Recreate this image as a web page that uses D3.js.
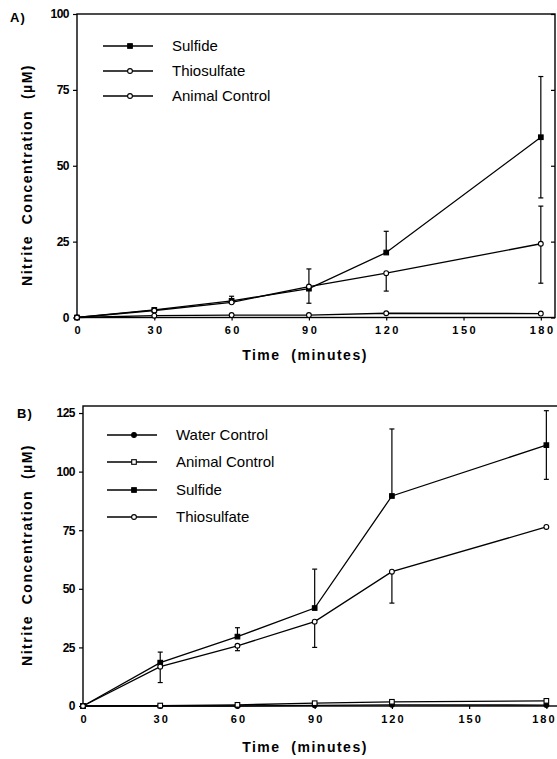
<!DOCTYPE html>
<html>
  <head>
    <style>
      body { margin: 0; background: #fff; }
      svg { font-family: "Liberation Sans", Arial, sans-serif; }
      .tick text { font-weight: bold; }
      .title { font-weight: bold; font-size: 14px; letter-spacing: 1.5px; white-space: pre; }
      .legend text { font-size: 15px; }
    </style>
  </head>
  <body>
    <svg width="557" height="759"></svg>
    <script src="https://d3js.org/d3.v7.min.js"></script>
    <script>
      // time points (minutes)
      var times = [0, 30, 60, 90, 120, 180];

      // panel A
      var aSulfide = [0, 2.5, 5.5, 9.5, 21.4, 59.4];
      var aSulfideUp = [0, 0.5, 1.5, 6.5, 7, 20];
      var aSulfideDown = [0, 0, 0, 0, 0, 20];
      var aThio = [0, 2.3, 5, 10.2, 14.6, 24.3];
      var aThioUp = [0, 0, 0, 0, 0, 12.4];
      var aThioDown = [0, 0, 0, 5.5, 5.9, 13];
      var aAnimal = [0, 0.6, 0.8, 0.8, 1.4, 1.3];

      // panel B
      var bWater = [0, 0, 0, 0.3, 0.5, 0.4];
      var bAnimal = [0, 0.2, 0.5, 1.2, 1.8, 2.2];
      var bSulfide = [0, 18.5, 29.6, 41.8, 89.6, 111.3];
      var bSulfideUp = [0, 4.5, 3.8, 16.6, 28.6, 14.7];
      var bSulfideDown = [0, 0, 0, 0, 0, 14.6];
      var bThio = [0, 16.8, 25.7, 36, 57.3, 76.4];
      var bThioUp = [0, 0, 0, 0, 0, 0];
      var bThioDown = [0, 6.8, 2.1, 11, 13.4, 0];

      var xTicks = [0, 30, 60, 90, 120, 150, 180];
      var aYTicks = [0, 25, 50, 75, 100];
      var bYTicks = [0, 25, 50, 75, 100, 125];

      var svg = d3.select("svg");

      function series(name, values, marker, up, down) {
        return { name: name, values: values, marker: marker, up: up || [], down: down || [] };
      }

      var panels = [
        {
          label: "A)", labelX: 10, labelY: 22,
          x0: 77, x1: 555, y0: 317.5, y1: 14,
          xMax: 185.5, yMax: 100, yTicks: aYTicks, rightTicks: true,
          titleY: 360, yTitleY: 175, tickSpacing: 2.5,
          legendX: 103, legendY: [46, 71, 96],
          series: [
            series("Sulfide", aSulfide, "filledSquare", aSulfideUp, aSulfideDown),
            series("Thiosulfate", aThio, "openCircle", aThioUp, aThioDown),
            series("Animal Control", aAnimal, "openCircle")
          ]
        },
        {
          label: "B)", labelX: 17, labelY: 418,
          x0: 83, x1: 560, y0: 706, y1: 406,
          xMax: 185.3, yMax: 128, yTicks: bYTicks, rightTicks: false,
          titleY: 752, yTitleY: 555, tickSpacing: 2,
          legendX: 107, legendY: [435, 462, 490, 517],
          series: [
            series("Water Control", bWater, "filledCircle"),
            series("Animal Control", bAnimal, "openSquare"),
            series("Sulfide", bSulfide, "filledSquare", bSulfideUp, bSulfideDown),
            series("Thiosulfate", bThio, "openCircle", bThioUp, bThioDown)
          ]
        }
      ];

      function drawMarker(g, type, cx, cy) {
        if (type === "filledSquare" || type === "openSquare") {
          g.append("rect")
            .attr("x", cx - 2.3).attr("y", cy - 2.3)
            .attr("width", 4.6).attr("height", 4.6)
            .attr("fill", type === "filledSquare" ? "#000" : "#fff")
            .attr("stroke", "#000").attr("stroke-width", 1.1);
        } else {
          g.append("circle")
            .attr("cx", cx).attr("cy", cy).attr("r", 2.4)
            .attr("fill", type === "filledCircle" ? "#000" : "#fff")
            .attr("stroke", "#000").attr("stroke-width", 1.1);
        }
      }

      panels.forEach(function(p) {
        var x = d3.scaleLinear().domain([0, p.xMax]).range([p.x0, p.x1]);
        var y = d3.scaleLinear().domain([0, p.yMax]).range([p.y0, p.y1]);
        var g = svg.append("g");

        // frame
        g.append("rect")
          .attr("x", p.x0).attr("y", p.y1)
          .attr("width", p.x1 - p.x0).attr("height", p.y0 - p.y1)
          .attr("fill", "none").attr("stroke", "#000").attr("stroke-width", 1.4);

        var xAxis = g.append("g")
          .attr("transform", "translate(0," + p.y0 + ")")
          .call(d3.axisBottom(x).tickValues(xTicks).tickSize(3).tickPadding(6));
        xAxis.selectAll("text")
          .attr("font-size", 11)
          .attr("letter-spacing", p.tickSpacing)
          .attr("dx", p.tickSpacing / 2)
          .attr("fill", "#000");

        // keep the last label inside the picture
        xAxis.selectAll(".tick text").each(function() {
          var box = this.getBBox();
          var tx = x(+d3.select(this.parentNode).datum());
          var over = tx + box.x + box.width - 556;
          if (over > 0) d3.select(this).attr("dx", p.tickSpacing / 2 - over);
        });

        var yAxis = g.append("g")
          .attr("transform", "translate(" + p.x0 + ",0)")
          .call(d3.axisLeft(y).tickValues(p.yTicks).tickSize(4).tickPadding(4));
        yAxis.selectAll("text")
          .attr("font-size", 12)
          .attr("letter-spacing", -0.5)
          .attr("fill", "#000");

        if (p.rightTicks) {
          g.append("g")
            .attr("transform", "translate(" + p.x1 + ",0)")
            .call(d3.axisLeft(y).tickValues(p.yTicks).tickSize(4).tickFormat(""));
        }
        g.selectAll(".domain").remove();
        g.selectAll(".tick line").attr("stroke-width", 1.2);

        // titles
        g.append("text")
          .attr("class", "title")
          .attr("x", 305).attr("y", p.titleY)
          .attr("text-anchor", "middle")
          .text("Time  (minutes)");
        g.append("text")
          .attr("class", "title")
          .attr("transform", "translate(32," + p.yTitleY + ") rotate(-90)")
          .attr("text-anchor", "middle")
          .text("Nitrite  Concentration  (\u00b5M)");
        g.append("text")
          .attr("x", p.labelX).attr("y", p.labelY)
          .attr("font-weight", "bold").attr("font-size", 13)
          .attr("letter-spacing", 1)
          .text(p.label);

        var line = d3.line()
          .x(function(d, i) { return x(times[i]); })
          .y(function(d) { return y(d); });

        // error bars first, then lines, then markers
        p.series.forEach(function(s) {
          s.values.forEach(function(v, i) {
            var hi = v + (s.up[i] || 0), lo = v - (s.down[i] || 0);
            if (hi === lo) return;
            var cx = x(times[i]);
            g.append("line")
              .attr("x1", cx).attr("x2", cx)
              .attr("y1", y(hi)).attr("y2", y(lo))
              .attr("stroke", "#000").attr("stroke-width", 1.2);
            if (s.up[i]) {
              g.append("line")
                .attr("x1", cx - 2.5).attr("x2", cx + 2.5)
                .attr("y1", y(hi)).attr("y2", y(hi))
                .attr("stroke", "#000").attr("stroke-width", 1.2);
            }
            if (s.down[i]) {
              g.append("line")
                .attr("x1", cx - 2.5).attr("x2", cx + 2.5)
                .attr("y1", y(lo)).attr("y2", y(lo))
                .attr("stroke", "#000").attr("stroke-width", 1.2);
            }
          });
        });

        p.series.forEach(function(s) {
          g.append("path")
            .datum(s.values)
            .attr("d", line)
            .attr("fill", "none")
            .attr("stroke", "#000")
            .attr("stroke-width", 1.3);
        });

        p.series.forEach(function(s) {
          s.values.forEach(function(v, i) {
            drawMarker(g, s.marker, x(times[i]), y(v));
          });
        });

        // legend
        var lg = g.append("g").attr("class", "legend");
        p.series.forEach(function(s, i) {
          var ly = p.legendY[i];
          lg.append("line")
            .attr("x1", p.legendX).attr("x2", p.legendX + 50)
            .attr("y1", ly).attr("y2", ly)
            .attr("stroke", "#000").attr("stroke-width", 1.3);
          drawMarker(lg, s.marker, p.legendX + 27, ly);
          lg.append("text")
            .attr("x", p.legendX + 69).attr("y", ly + 5)
            .text(s.name);
        });
      });
    </script>
  </body>
</html>
